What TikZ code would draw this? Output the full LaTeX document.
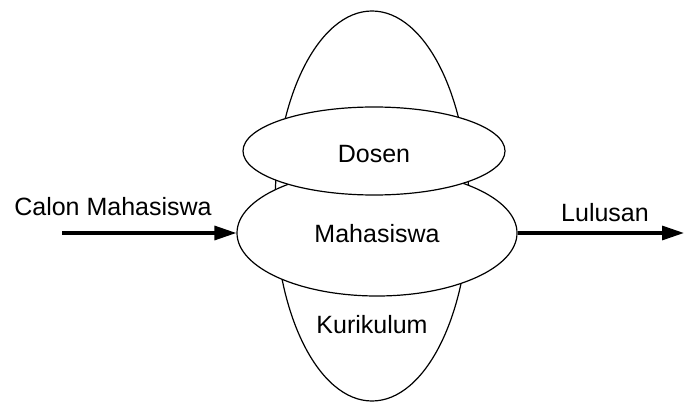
\documentclass[tikz,border=0pt]{standalone}
\usepackage{fontspec}
\setmainfont{Liberation Sans}
\usetikzlibrary{shapes.geometric,arrows.meta}
\begin{document}
\begin{tikzpicture}[x=1pt,y=-1pt,
  oval/.style={ellipse,draw,line width=1.2pt,fill=white,inner sep=0pt},
  lbl/.style={anchor=base,inner sep=0pt,font=\fontsize{25}{29}\selectfont},
  flow/.style={line width=3.2pt,-{Triangle[length=22pt,width=14pt]}}]
\useasboundingbox (0,0) rectangle (684,403);
\node[oval,minimum width=194pt,minimum height=390pt] (kur) at (372,206) {};
\node[lbl] (kurtext) at (372,333) {Kurikulum};
\node[oval,minimum width=280pt,minimum height=126pt] (maha) at (377,233) {};
\node[lbl] (mahatext) at (377,242) {Mahasiswa};
\node[oval,minimum width=262pt,minimum height=88pt] (dosen) at (374,151) {};
\node[lbl] (dosentext) at (374,163) {Dosen};
\coordinate (inL) at (62,233);
\coordinate (outR) at (684,233);
\draw[flow] (inL) -- (maha.west);
\draw[flow] (maha.east) -- (outR);
\node[lbl] (calon) at (113,215) {Calon Mahasiswa};
\node[lbl] (lulusan) at (605,222) {Lulusan};
\end{tikzpicture}
\end{document}
